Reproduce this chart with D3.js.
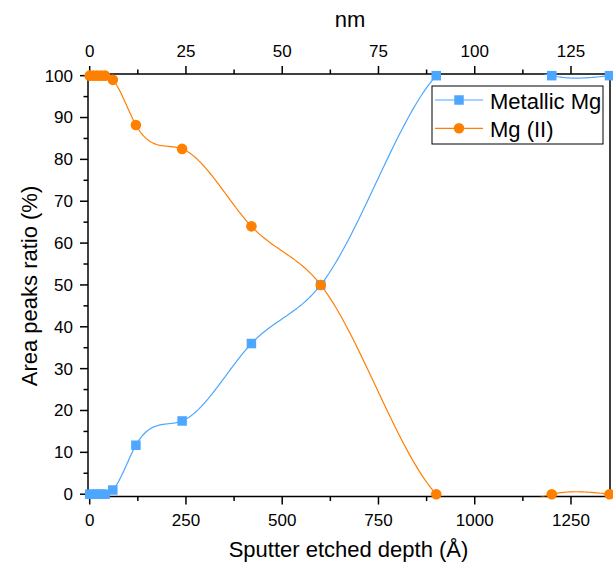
<!DOCTYPE html>
<html><head><meta charset="utf-8">
<script src="https://cdn.jsdelivr.net/npm/d3@7"></script>
<style>body{margin:0;background:#fff}svg{display:block;font-family:"Liberation Sans",Arial,sans-serif}</style>
</head><body><svg id="c" width="613" height="565"></svg>
<script>
const depth = [0, 10, 20, 30, 40, 60, 120, 240, 420, 600, 900, 1200, 1350];
const metallicMg = [0, 0, 0, 0, 0, 1, 11.7, 17.5, 36, 50, 100, 100, 100];
const mgII = [100, 100, 100, 100, 100, 99, 88.2, 82.5, 64, 50, 0, 0, 0];
const seriesNames = ["Metallic Mg", "Mg (II)"];
const xTicks = [0, 250, 500, 750, 1000, 1250];
const nmTicks = [0, 25, 50, 75, 100, 125];
const yTicks = [0, 10, 20, 30, 40, 50, 60, 70, 80, 90, 100];
const colors = ["#4da6ff", "#ff7f00"];

const svg = d3.select("#c");
const L = 88, R = 610, T = 74, B = 496.5;
const x = d3.scaleLinear().domain([-4.4, 1351.3]).range([L, R]);
const xnm = d3.scaleLinear().domain([-0.44, 135.13]).range([L, R]);
const y = d3.scaleLinear().domain([-0.55, 100.4]).range([B, T]);

// natural cubic spline y(x) through the data, sampled for d3.line
function solve(A, b) {
  const n = b.length; A = A.map(r => r.slice()); b = b.slice();
  for (let i = 0; i < n; i++) {
    let p = i; for (let k = i + 1; k < n; k++) if (Math.abs(A[k][i]) > Math.abs(A[p][i])) p = k;
    [A[i], A[p]] = [A[p], A[i]]; [b[i], b[p]] = [b[p], b[i]];
    for (let k = i + 1; k < n; k++) { const f = A[k][i] / A[i][i]; for (let j = i; j < n; j++) A[k][j] -= f * A[i][j]; b[k] -= f * b[i]; }
  }
  const r = new Array(n).fill(0);
  for (let i = n - 1; i >= 0; i--) { let s = b[i]; for (let j = i + 1; j < n; j++) s -= A[i][j] * r[j]; r[i] = s / A[i][i]; }
  return r;
}
function splinePoints(xs, ys) {
  const n = xs.length, h = [], d = [];
  for (let i = 0; i < n - 1; i++) { h.push(xs[i + 1] - xs[i]); d.push((ys[i + 1] - ys[i]) / h[i]); }
  const A = Array.from({length: n}, () => new Array(n).fill(0)), b = new Array(n).fill(0);
  for (let i = 1; i < n - 1; i++) { A[i][i - 1] = h[i - 1]; A[i][i] = 2 * (h[i - 1] + h[i]); A[i][i + 1] = h[i]; b[i] = 6 * (d[i] - d[i - 1]); }
  A[0][0] = 1; A[n - 1][n - 1] = 1;
  const M = solve(A, b), pts = [];
  for (let i = 0; i < n - 1; i++) for (let t = (i ? 1 : 0); t <= 40; t++) {
    const xx = xs[i] + h[i] * t / 40, a = xs[i + 1] - xx, bb = xx - xs[i];
    const v = M[i] * a * a * a / (6 * h[i]) + M[i + 1] * bb * bb * bb / (6 * h[i]) + (ys[i] / h[i] - M[i] * h[i] / 6) * a + (ys[i + 1] / h[i] - M[i + 1] * h[i] / 6) * bb;
    pts.push([xx, v]);
  }
  return pts;
}

svg.append("defs").append("clipPath").attr("id", "clip")
  .append("rect").attr("x", L).attr("y", T).attr("width", R - L).attr("height", B - T);

const fs = 17;
// bottom axis
const xMinor = d3.range(125, 1350, 250);
const gB = svg.append("g").attr("transform", `translate(0,${B})`);
gB.selectAll("line.mj").data(xTicks).join("line").attr("x1", d => x(d)).attr("x2", d => x(d)).attr("y1", 0).attr("y2", 8).attr("stroke", "#000").attr("stroke-width", 1.5);
gB.selectAll("line.mn").data(xMinor).join("line").attr("x1", d => x(d)).attr("x2", d => x(d)).attr("y1", 0).attr("y2", 4.5).attr("stroke", "#000").attr("stroke-width", 1.5);
gB.selectAll("text").data(xTicks).join("text").attr("x", d => x(d)).attr("y", 29.5).attr("text-anchor", "middle").attr("font-size", fs).text(d => d);

// top axis (nm)
const nmMinor = d3.range(12.5, 135, 25);
const gT = svg.append("g").attr("transform", `translate(0,${T})`);
gT.selectAll("line.mj").data(nmTicks).join("line").attr("x1", d => xnm(d)).attr("x2", d => xnm(d)).attr("y1", 0).attr("y2", -8).attr("stroke", "#000").attr("stroke-width", 1.5);
gT.selectAll("line.mn").data(nmMinor).join("line").attr("x1", d => xnm(d)).attr("x2", d => xnm(d)).attr("y1", 0).attr("y2", -4.5).attr("stroke", "#000").attr("stroke-width", 1.5);
gT.selectAll("text").data(nmTicks).join("text").attr("x", d => xnm(d)).attr("y", -17).attr("text-anchor", "middle").attr("font-size", fs).text(d => d);

// left axis
const yMinor = d3.range(5, 100, 10);
const gL = svg.append("g").attr("transform", `translate(${L},0)`);
gL.selectAll("line.mj").data(yTicks).join("line").attr("y1", d => y(d)).attr("y2", d => y(d)).attr("x1", 0).attr("x2", -8).attr("stroke", "#000").attr("stroke-width", 1.5);
gL.selectAll("line.mn").data(yMinor).join("line").attr("y1", d => y(d)).attr("y2", d => y(d)).attr("x1", 0).attr("x2", -4.5).attr("stroke", "#000").attr("stroke-width", 1.5);
gL.selectAll("text").data(yTicks).join("text").attr("x", -15).attr("y", d => y(d)).attr("dy", "0.35em").attr("text-anchor", "end").attr("font-size", fs).text(d => d);

// frame
svg.append("rect").attr("x", L).attr("y", T).attr("width", R - L).attr("height", B - T).attr("fill", "none").attr("stroke", "#000").attr("stroke-width", 1.5);

// titles
svg.append("text").attr("x", 348.5).attr("y", 557).attr("text-anchor", "middle").attr("font-size", 22).text("Sputter etched depth (Å)");
svg.append("text").attr("x", 350).attr("y", 27).attr("text-anchor", "middle").attr("font-size", 22).text("nm");
svg.append("text").attr("transform", "translate(37,286) rotate(-90)").attr("text-anchor", "middle").attr("font-size", 22).text("Area peaks ratio (%)");

// series
const line = d3.line().x(d => x(d[0])).y(d => y(d[1]));
const sets = [metallicMg, mgII].map(vals => depth.map((d, i) => [d, vals[i]]));
const gLines = svg.append("g").attr("clip-path", "url(#clip)");
[metallicMg, mgII].forEach((v, k) => {
  gLines.append("path").datum(splinePoints(depth, v)).attr("d", line).attr("fill", "none").attr("stroke", colors[k]).attr("stroke-width", 1.2);
});
const sq = 9.5, cr = 5.3;
svg.append("g").selectAll("rect").data(sets[0]).join("rect")
  .attr("x", d => x(d[0]) - sq / 2).attr("y", d => y(d[1]) - sq / 2).attr("width", sq).attr("height", sq).attr("fill", colors[0]);
svg.append("g").selectAll("circle").data(sets[1]).join("circle")
  .attr("cx", d => x(d[0])).attr("cy", d => y(d[1])).attr("r", cr).attr("fill", colors[1]);

// legend
const lg = svg.append("g");
lg.append("rect").attr("x", 432).attr("y", 86).attr("width", 171).attr("height", 58).attr("fill", "#fff").attr("stroke", "#000").attr("stroke-width", 1);
const ly = [100, 128.3];
seriesNames.forEach((n, k) => {
  lg.append("line").attr("x1", 435).attr("x2", 483).attr("y1", ly[k]).attr("y2", ly[k]).attr("stroke", colors[k]).attr("stroke-width", 1.2);
  if (k === 0) lg.append("rect").attr("x", 459 - sq / 2).attr("y", ly[k] - sq / 2).attr("width", sq).attr("height", sq).attr("fill", colors[k]);
  else lg.append("circle").attr("cx", 459).attr("cy", ly[k]).attr("r", cr).attr("fill", colors[k]);
  lg.append("text").attr("x", 490).attr("y", ly[k] + 8.5).attr("font-size", 22).text(n);
});
</script></body></html>
